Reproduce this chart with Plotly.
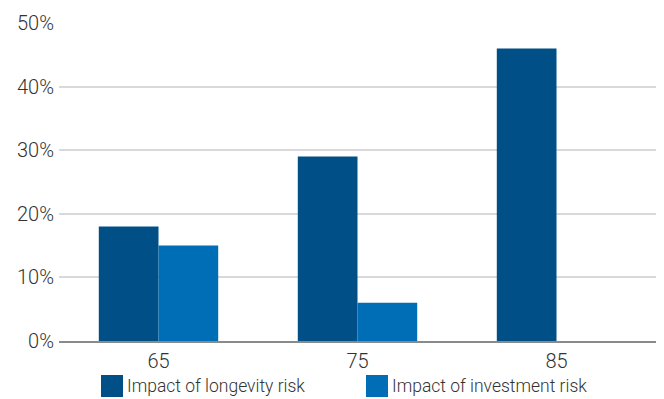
import plotly.graph_objects as go

# Retirement age groups and the share of shortfall explained by each risk (%)
ages = ["65", "75", "85"]
longevity_risk = [18, 29, 46]
investment_risk = [15, 6, 0]
series_names = ["Impact of longevity risk", "Impact of investment risk"]
y_ticks = [0, 10, 20, 30, 40, 50]
y_tick_labels = [f"{v}%" for v in y_ticks]

DARK = "#005087"
LIGHT = "#006EB6"
TEXT = "#333333"
FONT = "Roboto"

fig = go.Figure()
fig.add_trace(go.Bar(x=ages, y=longevity_risk, name=series_names[0],
                     marker=dict(color=DARK, line=dict(width=0))))
fig.add_trace(go.Bar(x=ages, y=investment_risk, name=series_names[1],
                     marker=dict(color=LIGHT, line=dict(width=0))))

fig.update_layout(
    width=664, height=399,
    margin=dict(l=59, r=8, t=23, b=58),
    paper_bgcolor="white", plot_bgcolor="white",
    barmode="group", bargap=0.4, bargroupgap=0,
    showlegend=False,
    font=dict(family=FONT, color=TEXT, size=18, weight=300),
)
fig.update_xaxes(
    showgrid=False, showline=True, linecolor="#8a8a8a", linewidth=1.5,
    ticks="", tickfont=dict(size=20, color=TEXT, family=FONT, weight=300),
    ticklabelstandoff=1,
)
fig.update_yaxes(
    range=[0, 50], tickmode="array", tickvals=y_ticks, ticktext=y_tick_labels,
    showgrid=True, gridcolor="#d9d9d9", gridwidth=1.5,
    zeroline=False, showline=False, ticks="",
    tickfont=dict(size=20, color=TEXT, family=FONT, weight=300),
    ticklabelstandoff=4,
)

# Legend drawn as swatches with labels below the plot
legend_items = [(series_names[0], DARK, 101), (series_names[1], LIGHT, 366)]
for label, color, x0 in legend_items:
    fig.add_shape(type="rect", xref="paper", yref="paper",
                  x0=(x0 - 59) / 597, x1=(x0 + 22 - 59) / 597,
                  y0=(341 - 397) / 318, y1=(341 - 375) / 318,
                  line=dict(width=0), fillcolor=color)
    fig.add_annotation(text=label, xref="paper", yref="paper",
                       x=(x0 + 24 - 59) / 597, y=(341 - 386) / 318,
                       xanchor="left", yanchor="middle", showarrow=False,
                       font=dict(size=17.5, color=TEXT, family=FONT, weight=300))

fig.write_html("out.html")
